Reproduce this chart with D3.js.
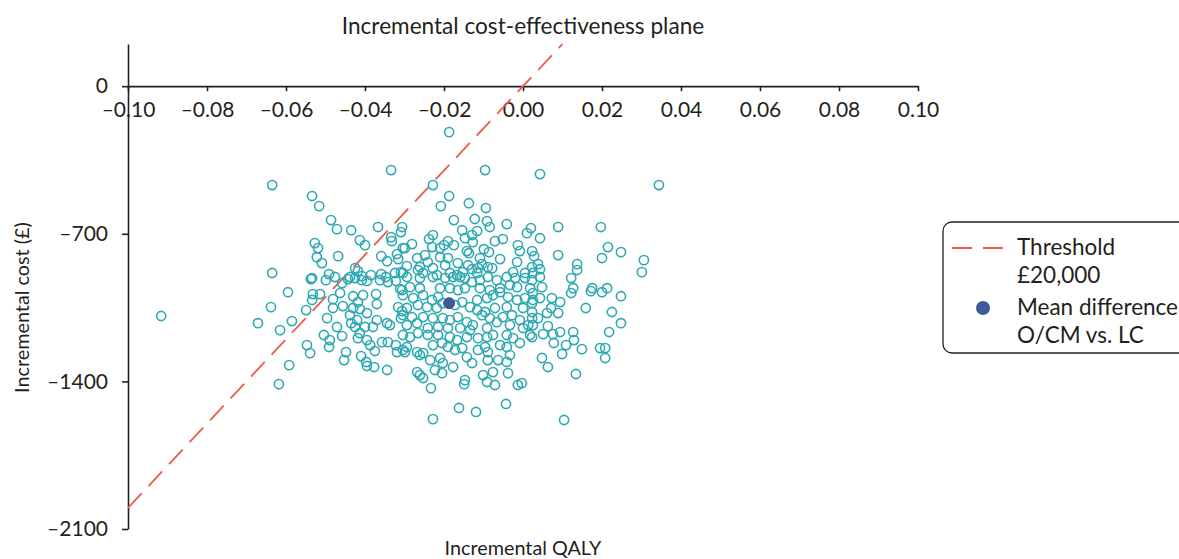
<!DOCTYPE html>
<html>
<head>
<meta charset="utf-8">
<script src="https://cdn.jsdelivr.net/npm/d3@7"></script>
<style>
  html, body { margin: 0; padding: 0; background: #ffffff; }
  svg { display: block; font-family: Lato, "Open Sans", sans-serif; }
</style>
</head>
<body>
<svg id="chart" width="1179" height="559"></svg>
<script>
// Axis ticks
const xTicks = [-0.10, -0.08, -0.06, -0.04, -0.02, 0.00, 0.02, 0.04, 0.06, 0.08, 0.10];
const yTicks = [0, -700, -1400, -2100];

// Text
const chartTitle = "Incremental cost-effectiveness plane";
const xTitle = "Incremental QALY";
const yTitle = "Incremental cost (£)";
const legendLabels = [["Threshold", "£20,000"], ["Mean difference", "O/CM vs. LC"]];

// Willingness-to-pay threshold (£ per QALY) and the QALY span of its line
const wtp = 20000;
const thresholdQaly = [-0.10, 0.01];

// Mean difference O/CM vs. LC: [QALY, cost]
const meanDiff = [-0.0187, -1029];

// Bootstrapped incremental [QALY, cost] pairs
const bootstrap = [
  [-0.0635,-469],[-0.0635,-886],[-0.0334,-398],[-0.0534,-521],[-0.0516,-569],[-0.0486,-635],[-0.0471,-678],[-0.0435,-683],
  [-0.0367,-668],[-0.0413,-730],[-0.0400,-754],[-0.0334,-716],[-0.0332,-735],[-0.0309,-692],[-0.0527,-744],[-0.0519,-768],
  [-0.0522,-811],[-0.0509,-839],[-0.0468,-806],[-0.0359,-806],[-0.0344,-830],[-0.0319,-796],[-0.0316,-820],[-0.0304,-768],
  [-0.0534,-910],[-0.0491,-891],[-0.0476,-905],[-0.0425,-863],[-0.0418,-877],[-0.0438,-905],[-0.0408,-901],[-0.0385,-896],
  [-0.0359,-891],[-0.0347,-905],[-0.0324,-886],[-0.0309,-882],[-0.0916,-1090],[-0.0671,-1124],[-0.0638,-1048],

  [-0.0187,-218],[-0.0096,-398],[-0.0228,-469],[-0.0187,-521],[-0.0208,-569],[-0.0137,-555],[-0.0094,-578],[-0.0175,-635],
  [-0.0122,-630],[-0.0091,-640],[-0.0041,-654],[-0.0154,-683],[-0.0116,-687],[-0.0129,-706],[-0.0084,-668],[-0.0147,-721],
  [-0.0127,-740],[-0.0071,-735],[-0.0051,-725],[-0.0228,-706],[-0.0238,-725],[-0.0306,-668],[-0.0281,-749],[-0.0299,-768],
  [-0.0190,-735],[-0.0200,-754],[-0.0175,-754],[-0.0210,-768],[-0.0230,-763],[-0.0142,-782],[-0.0137,-792],[-0.0099,-773],
  [-0.0086,-787],[-0.0013,-754],[-0.0008,-782],[0.0010,-697],[0.0020,-673],[-0.0268,-815],[-0.0248,-801],[-0.0241,-834],
  [-0.0210,-811],[-0.0190,-815],[-0.0165,-839],[-0.0197,-849],[-0.0228,-863],[-0.0261,-858],[-0.0294,-853],[-0.0304,-886],
  [-0.0266,-872],[-0.0253,-886],[-0.0152,-882],[-0.0139,-849],[-0.0109,-815],[-0.0104,-844],[-0.0089,-858],[-0.0114,-863],
  [-0.0129,-868],[-0.0078,-863],[-0.0058,-820],[-0.0025,-882],[-0.0015,-834],[0.0005,-886],[0.0023,-858],[0.0025,-886],
  [-0.0218,-896],[-0.0185,-886],[-0.0167,-896],[-0.0159,-905],[-0.0116,-886],

  [0.0043,-417],[0.0344,-469],[0.0089,-668],[0.0197,-668],[0.0043,-721],[0.0215,-763],[0.0248,-787],[0.0200,-815],
  [0.0306,-825],[0.0301,-882],[0.0089,-801],[0.0137,-844],[0.0137,-872],[0.0122,-910],[0.0023,-782],[0.0028,-806],
  [0.0038,-844],[0.0043,-868],[0.0043,-905],

  [-0.0537,-915],[-0.0595,-977],[-0.0549,-1062],[-0.0534,-1014],[-0.0532,-986],[-0.0514,-986],[-0.0585,-1114],[-0.0615,-1157],
  [-0.0547,-1228],[-0.0539,-1266],[-0.0592,-1323],[-0.0618,-1413],[-0.0496,-1100],[-0.0504,-1180],[-0.0489,-1204],[-0.0491,-1237],
  [-0.0481,-1010],[-0.0481,-1052],[-0.0463,-981],[-0.0456,-1043],[-0.0471,-1142],[-0.0458,-1185],[-0.0499,-920],[-0.0458,-934],
  [-0.0443,-915],[-0.0425,-910],[-0.0408,-920],[-0.0395,-924],[-0.0430,-996],[-0.0405,-991],[-0.0372,-986],[-0.0370,-1033],
  [-0.0418,-1024],[-0.0430,-1052],[-0.0413,-1057],[-0.0395,-1076],[-0.0438,-1086],[-0.0435,-1124],[-0.0420,-1109],[-0.0370,-1109],
  [-0.0344,-1124],[-0.0337,-1133],[-0.0425,-1142],[-0.0400,-1142],[-0.0380,-1142],[-0.0413,-1171],[-0.0418,-1195],[-0.0395,-1204],
  [-0.0357,-1214],[-0.0342,-1214],[-0.0387,-1228],[-0.0375,-1256],[-0.0322,-1228],[-0.0319,-1261],[-0.0304,-1180],[-0.0304,-1251],
  [-0.0448,-1261],[-0.0453,-1299],[-0.0410,-1280],[-0.0397,-1308],[-0.0395,-1327],[-0.0377,-1332],[-0.0344,-1346],[-0.0316,-1048],
  [-0.0306,-1067],[-0.0309,-1100],[-0.0311,-962],[-0.0342,-929],[-0.0322,-924],[-0.0362,-920],

  [-0.0294,-905],[-0.0261,-910],[-0.0228,-905],[-0.0197,-910],[-0.0177,-905],[-0.0147,-910],[-0.0129,-929],[-0.0109,-920],
  [-0.0089,-905],[-0.0066,-920],[-0.0041,-905],[-0.0020,-910],[0.0005,-910],[0.0023,-920],
  [-0.0286,-953],[-0.0306,-967],[-0.0261,-958],[-0.0210,-958],[-0.0185,-958],[-0.0165,-967],[-0.0147,-958],[-0.0109,-958],
  [-0.0084,-967],[-0.0058,-958],[-0.0033,-943],[-0.0015,-953],[0.0018,-958],
  [-0.0304,-991],[-0.0278,-1005],[-0.0253,-991],[-0.0230,-1014],[-0.0215,-1000],[-0.0203,-1029],[-0.0172,-1038],[-0.0154,-1024],
  [-0.0134,-1048],[-0.0116,-1014],[-0.0091,-1005],[-0.0076,-991],[-0.0058,-977],[-0.0038,-1000],[-0.0015,-1014],[0.0005,-1005],
  [0.0023,-1029],
  [-0.0294,-1052],[-0.0266,-1038],[-0.0243,-1048],[-0.0218,-1052],[-0.0116,-1062],[-0.0096,-1071],[-0.0071,-1052],[-0.0041,-1048],
  [0.0000,-1052],
  [-0.0304,-1086],[-0.0281,-1095],[-0.0253,-1095],[-0.0228,-1100],[-0.0203,-1100],[-0.0185,-1109],[-0.0165,-1095],[-0.0142,-1119],
  [-0.0127,-1133],[-0.0104,-1086],[-0.0084,-1100],[-0.0066,-1119],[-0.0051,-1095],[-0.0028,-1086],[-0.0008,-1109],[0.0013,-1133],
  [0.0023,-1100],
  [-0.0294,-1133],[-0.0268,-1124],[-0.0241,-1147],[-0.0215,-1142],[-0.0190,-1147],[-0.0159,-1147],[-0.0134,-1157],[-0.0091,-1147],
  [-0.0033,-1133],[0.0000,-1147],
  [-0.0286,-1190],[-0.0266,-1171],[-0.0241,-1180],[-0.0215,-1180],[-0.0185,-1190],[-0.0167,-1204],[-0.0142,-1190],[-0.0114,-1195],
  [-0.0091,-1190],[-0.0076,-1180],[-0.0041,-1180],[-0.0025,-1195],[-0.0008,-1218],[0.0018,-1180],
  [-0.0294,-1237],[-0.0268,-1261],[-0.0253,-1266],[-0.0228,-1228],[-0.0205,-1218],[-0.0190,-1237],[-0.0172,-1251],[-0.0154,-1242],
  [-0.0114,-1251],[-0.0096,-1237],[-0.0089,-1261],[-0.0058,-1228],[-0.0041,-1237],[-0.0033,-1275],
  [-0.0299,-1261],[-0.0261,-1275],[-0.0235,-1299],[-0.0210,-1289],[-0.0203,-1313],[-0.0177,-1332],[-0.0142,-1285],[-0.0129,-1313],
  [-0.0089,-1299],[-0.0063,-1299],[-0.0041,-1308],
  [-0.0268,-1356],[-0.0261,-1370],[-0.0253,-1384],[-0.0223,-1346],[-0.0205,-1361],[-0.0147,-1394],[-0.0149,-1413],[-0.0101,-1370],
  [-0.0091,-1403],[-0.0076,-1356],[-0.0071,-1417],[-0.0038,-1361],[-0.0013,-1417],[-0.0003,-1408],[-0.0233,-1432],
  [-0.0162,-1526],[-0.0119,-1545],[-0.0043,-1507],[-0.0228,-1579],

  [0.0048,-953],[0.0127,-958],[0.0122,-981],[0.0175,-958],[0.0172,-972],[0.0200,-977],[0.0213,-958],[0.0248,-996],
  [0.0025,-981],[0.0025,-1014],[0.0043,-1005],[0.0073,-1005],[0.0094,-1024],[0.0159,-1052],[0.0225,-1071],[0.0248,-1124],
  [0.0023,-1071],[0.0038,-1100],[0.0061,-1076],[0.0071,-1052],[0.0089,-1076],[0.0025,-1133],[0.0063,-1138],[0.0051,-1176],
  [0.0076,-1176],[0.0094,-1166],[0.0023,-1190],[0.0127,-1166],[0.0129,-1204],[0.0218,-1166],[0.0078,-1218],[0.0109,-1228],
  [0.0099,-1270],[0.0149,-1247],[0.0195,-1242],[0.0208,-1242],[0.0208,-1289],[0.0048,-1289],[0.0063,-1332],[0.0134,-1365],
  [0.0104,-1583]
];

const ink = "#231f20";
const teal = "#2ea9b1";
const red = "#ec5a4c";
const navy = "#3f5a99";

const svg = d3.select("#chart");

const x = d3.scaleLinear().domain([-0.10, 0.10]).range([128, 918]);
const y = d3.scaleLinear().domain([200, -2100]).range([44, 529]);

const dash = s => s.replace("-", "\u2013").replace("\u2212", "\u2013");

// Title
svg.append("text")
  .attr("x", x(0)).attr("y", 34)
  .attr("text-anchor", "middle")
  .attr("font-size", 22.6).attr("fill", ink)
  .text(chartTitle);

// x axis drawn through cost = 0
const xAxis = svg.append("g")
  .attr("transform", `translate(0,${y(0)})`)
  .call(d3.axisBottom(x).tickValues(xTicks).tickSize(5).tickSizeOuter(0)
    .tickFormat(d => dash(d3.format(".2f")(d))));
xAxis.select(".domain").attr("stroke", ink).attr("stroke-width", 1.6);
xAxis.selectAll(".tick line").attr("stroke", ink).attr("stroke-width", 1.6);
xAxis.selectAll(".tick text")
  .attr("y", 31).attr("dy", 0)
  .attr("font-size", 21).attr("fill", ink).attr("font-family", "Lato, sans-serif");

// y axis drawn at the left edge of the QALY range
const yAxis = svg.append("g")
  .attr("transform", `translate(${x(-0.10)},0)`)
  .call(d3.axisLeft(y).tickValues(yTicks).tickSize(6).tickPadding(14).tickSizeOuter(0)
    .tickFormat(d => dash(String(d))));
yAxis.select(".domain").attr("stroke", ink).attr("stroke-width", 1.6);
yAxis.selectAll(".tick line").attr("stroke", ink).attr("stroke-width", 1.6);
yAxis.selectAll(".tick text")
  .attr("font-size", 21).attr("fill", ink).attr("font-family", "Lato, sans-serif");

// Axis titles
svg.append("text")
  .attr("x", x(0)).attr("y", 555)
  .attr("text-anchor", "middle")
  .attr("font-size", 19.8).attr("fill", ink)
  .text(xTitle);
svg.append("text")
  .attr("transform", `translate(29,${y(-1050)}) rotate(-90)`)
  .attr("text-anchor", "middle")
  .attr("font-size", 19.8).attr("fill", ink)
  .text(yTitle);

// Willingness-to-pay threshold line
svg.append("path")
  .datum(thresholdQaly.map(q => [q, q * wtp]))
  .attr("d", d3.line().x(d => x(d[0])).y(d => y(d[1])))
  .attr("fill", "none")
  .attr("stroke", red)
  .attr("stroke-width", 1.8)
  .attr("stroke-dasharray", "20,10");

// Bootstrap replicates
svg.append("g")
  .selectAll("circle")
  .data(bootstrap)
  .join("circle")
  .attr("cx", d => x(d[0]))
  .attr("cy", d => y(d[1]))
  .attr("r", 4.6)
  .attr("fill", "none")
  .attr("stroke", teal)
  .attr("stroke-width", 1.6);

// Mean difference
svg.append("circle")
  .attr("cx", x(meanDiff[0]))
  .attr("cy", y(meanDiff[1]))
  .attr("r", 5.5)
  .attr("fill", navy)
  .attr("stroke", navy)
  .attr("stroke-width", 1);

// Legend
const legend = svg.append("g").attr("transform", "translate(943,222)");
legend.append("rect")
  .attr("x", 0).attr("y", 0)
  .attr("width", 250).attr("height", 131)
  .attr("rx", 9)
  .attr("fill", "#ffffff")
  .attr("stroke", ink)
  .attr("stroke-width", 1.3);
legend.append("line")
  .attr("x1", 9).attr("x2", 60)
  .attr("y1", 26).attr("y2", 26)
  .attr("stroke", red).attr("stroke-width", 1.8)
  .attr("stroke-dasharray", "20,11");
legend.append("circle")
  .attr("cx", 40).attr("cy", 86)
  .attr("r", 7)
  .attr("fill", navy);
legendLabels.forEach((lines, i) => {
  const t = legend.append("text")
    .attr("x", 74)
    .attr("y", 33 + i * 60)
    .attr("font-size", 22.5)
    .attr("fill", ink);
  lines.forEach((ln, j) => {
    t.append("tspan").attr("x", 74).attr("dy", j === 0 ? 0 : 28).text(ln);
  });
});
</script>
</body>
</html>
